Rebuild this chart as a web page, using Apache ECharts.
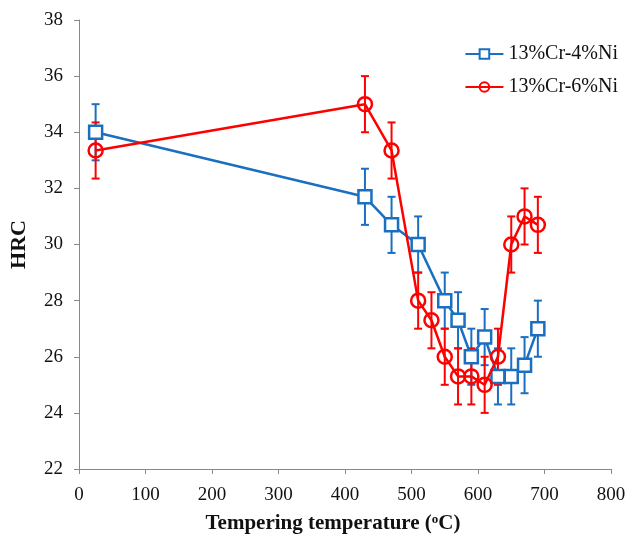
<!DOCTYPE html>
<html style="height: 100%;">
<head>
<meta charset="utf-8">
<title>HRC vs tempering temperature</title>
<script type="text/javascript" src="https://cdn.jsdelivr.net/npm/echarts@6/dist/echarts.min.js"></script>
</head>
<body style="height: 100%; margin: 0; background: #fff">
<div id="container" style="width: 629px; height: 541px"></div>
<script type="text/javascript">
// 13%Cr-4%Ni
var temp4 = [25, 430, 470, 510, 550, 570, 590, 610, 630, 650, 670, 690];
var hrc4  = [34.0, 31.7, 30.7, 30.0, 28.0, 27.3, 26.0, 26.7, 25.3, 25.3, 25.7, 27.0];
var err4  = [1, 1, 1, 1, 1, 1, 1, 1, 1, 1, 1, 1];
// 13%Cr-6%Ni
var temp6 = [25, 430, 470, 510, 530, 550, 570, 590, 610, 630, 650, 670, 690];
var hrc6  = [33.35, 35.0, 33.35, 28.0, 27.3, 26.0, 25.3, 25.3, 25.0, 26.0, 30.0, 31.0, 30.7];
var err6  = [1, 1, 1, 1, 1, 1, 1, 1, 1, 1, 1, 1, 1];

var blue = '#1a6fc0';
var red = '#ff0000';
var font = 'Liberation Serif';

function pairs(xs, ys) {
  var out = [];
  for (var i = 0; i < xs.length; i++) out.push([xs[i], ys[i]]);
  return out;
}
function errData(xs, ys, es) {
  var out = [];
  for (var i = 0; i < xs.length; i++) out.push([xs[i], ys[i] - es[i], ys[i] + es[i]]);
  return out;
}
// 误差棒
function errRender(color) {
  return function (params, api) {
    var lo = api.coord([api.value(0), api.value(1)]);
    var hi = api.coord([api.value(0), api.value(2)]);
    var cap = 4;
    var st = { stroke: color, lineWidth: 2 };
    return {
      type: 'group',
      children: [
        { type: 'line', shape: { x1: lo[0], y1: lo[1], x2: hi[0], y2: hi[1] }, style: st },
        { type: 'line', shape: { x1: lo[0] - cap, y1: lo[1], x2: lo[0] + cap, y2: lo[1] }, style: st },
        { type: 'line', shape: { x1: hi[0] - cap, y1: hi[1], x2: hi[0] + cap, y2: hi[1] }, style: st }
      ]
    };
  };
}

var myChart = echarts.init(document.getElementById('container'));
var option = {
  animation: false,
  textStyle: { fontFamily: font },
  grid: { left: 79, right: 18, top: 20, bottom: 72 },
  legend: {
    data: ['13%Cr-4%Ni', '13%Cr-6%Ni'],
    orient: 'vertical',
    right: 6,
    top: 39,
    itemWidth: 38,
    itemHeight: 12,
    itemGap: 13,
    textStyle: { fontFamily: font, fontSize: 20, color: '#111' }
  },
  xAxis: {
    type: 'value',
    min: 0, max: 800, interval: 100,
    name: '{b|Tempering temperature (}{s|o}{b|C)}',
    nameLocation: 'middle',
    nameGap: 44,
    nameTextStyle: {
      padding: [0, 24, 0, 0],
      rich: {
        b: { fontFamily: font, fontSize: 21, fontWeight: 'bold', color: '#111' },
        s: { fontFamily: font, fontSize: 13, fontWeight: 'bold', color: '#111', verticalAlign: 'top', padding: [0, 0, 9, 0] }
      }
    },
    axisLine: { lineStyle: { color: '#888', width: 1 } },
    axisTick: { show: true, length: 5, lineStyle: { color: '#888' } },
    axisLabel: { fontFamily: font, fontSize: 19, color: '#111', margin: 17 },
    splitLine: { show: false }
  },
  yAxis: {
    type: 'value',
    min: 22, max: 38, interval: 2,
    name: 'HRC',
    nameLocation: 'middle',
    nameGap: 49,
    nameTextStyle: { fontFamily: font, fontSize: 22, fontWeight: 'bold', color: '#111' },
    axisLine: { show: true, lineStyle: { color: '#888', width: 1 } },
    axisTick: { show: true, length: 5, lineStyle: { color: '#888' } },
    axisLabel: { fontFamily: font, fontSize: 19, color: '#111', margin: 16 },
    splitLine: { show: false }
  },
  series: [
    {
      name: 'err4', type: 'custom', renderItem: errRender(blue),
      data: errData(temp4, hrc4, err4), encode: { x: 0, y: [1, 2] }, z: 1
    },
    {
      name: 'err6', type: 'custom', renderItem: errRender(red),
      data: errData(temp6, hrc6, err6), encode: { x: 0, y: [1, 2] }, z: 1
    },
    {
      name: '13%Cr-4%Ni', type: 'line', data: pairs(temp4, hrc4),
      symbol: 'rect', symbolSize: 13,
      lineStyle: { color: blue, width: 2.5 },
      itemStyle: { color: '#fff', borderColor: blue, borderWidth: 2.5 },
      z: 3
    },
    {
      name: '13%Cr-6%Ni', type: 'line', data: pairs(temp6, hrc6),
      symbol: 'circle', symbolSize: 14,
      lineStyle: { color: red, width: 2.5 },
      itemStyle: { color: 'rgba(255,255,255,0)', borderColor: red, borderWidth: 2.5 },
      z: 4
    }
  ]
};
myChart.setOption(option);
window.onresize = function () { myChart.resize(); };
</script>
</body>
</html>
